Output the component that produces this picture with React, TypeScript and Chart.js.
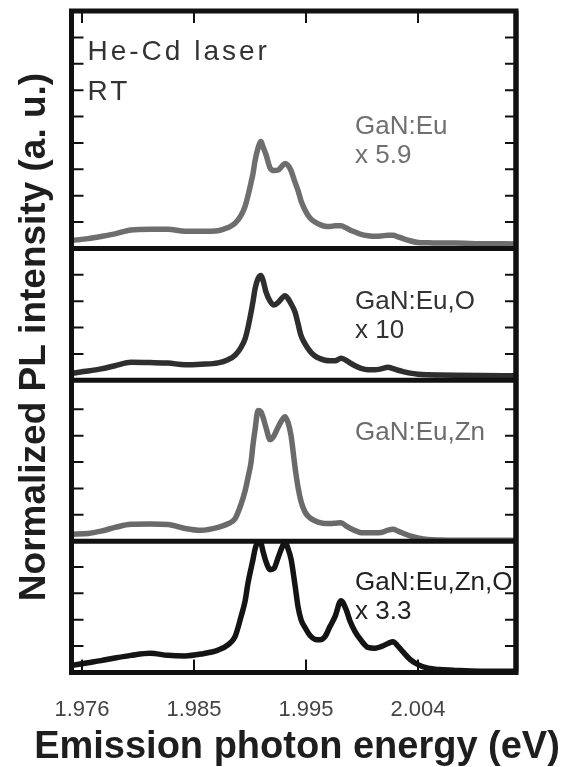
import React, { useEffect, useRef } from "react";
import { Chart, registerables } from "chart.js";

Chart.register(...registerables);

// Emission photon energy (eV)
const energies = [
  1.97515, 1.97651, 1.97761, 1.9788, 1.98016, 1.98177, 1.9833, 1.98474, 1.98609, 1.98754,
  1.98838, 1.98898, 1.98949, 1.98983, 1.99008, 1.99034, 1.99051, 1.99067, 1.99093, 1.99118,
  1.99135, 1.99161, 1.99195, 1.99229, 1.99263, 1.99297, 1.99322, 1.99347, 1.99373, 1.99407,
  1.99432, 1.99458, 1.99492, 1.99534, 1.99576, 1.99619, 1.99661, 1.99704, 1.99746, 1.99797,
  1.99839, 1.99873, 1.99916, 1.99967, 2.00026, 2.00085, 2.00136, 2.00196, 2.00238, 2.0028,
  2.00323, 2.00382, 2.0045, 2.00535, 2.00637, 2.00764, 2.00976, 2.01281,
];

// Normalized PL intensity (a. u.), one array per sample
const gaNEu = [
  0.3, 0.37, 0.45, 0.55, 0.7, 0.73, 0.73, 0.65, 0.65, 0.67,
  0.79, 0.95, 1.25, 1.59, 2.0, 2.5, 2.85, 3.3, 3.8, 4.05,
  3.85, 3.55, 3.05, 2.95, 2.97, 3.12, 3.22, 3.15, 2.95, 2.5,
  2.2, 1.8, 1.45, 1.15, 1.0, 0.9, 0.84, 0.83, 0.86, 0.86,
  0.78, 0.7, 0.62, 0.53, 0.48, 0.46, 0.47, 0.5, 0.5, 0.44,
  0.37, 0.29, 0.22, 0.21, 0.2, 0.2, 0.18, 0.17,
];
const gaNEuO = [
  0.27, 0.35, 0.43, 0.55, 0.68, 0.67, 0.65, 0.59, 0.61, 0.66,
  0.78, 0.95, 1.25, 1.57, 2.0, 2.58, 3.0, 3.45, 3.85, 3.97,
  3.8, 3.34, 3.0, 2.85, 2.95, 3.12, 3.2, 3.1, 2.9, 2.58,
  2.15, 1.69, 1.38, 1.1, 0.92, 0.82, 0.76, 0.74, 0.74, 0.83,
  0.76, 0.66, 0.55, 0.45, 0.4, 0.4, 0.43, 0.49, 0.44, 0.38,
  0.33, 0.27, 0.23, 0.21, 0.2, 0.19, 0.18, 0.17,
];
const gaNEuZn = [
  0.26, 0.29, 0.38, 0.52, 0.64, 0.65, 0.63, 0.48, 0.41, 0.52,
  0.66, 0.85, 1.4, 1.9, 2.41, 3.0, 3.68, 4.2, 4.95, 4.9,
  4.7, 4.3, 3.85, 4.0, 4.32, 4.6, 4.72, 4.5, 4.0, 2.8,
  2.05, 1.5, 1.1, 0.88, 0.77, 0.7, 0.67, 0.67, 0.68, 0.7,
  0.58, 0.49, 0.4, 0.32, 0.32, 0.32, 0.33, 0.42, 0.45, 0.38,
  0.3, 0.2, 0.12, 0.06, 0.04, 0.03, 0.03, 0.03,
];
const gaNEuZnO = [
  0.27, 0.37, 0.45, 0.55, 0.65, 0.73, 0.65, 0.63, 0.7, 0.85,
  1.05, 1.36, 2.12, 2.7, 3.39, 3.95, 4.3, 4.66, 4.95, 4.9,
  4.6, 4.2, 3.9, 3.95, 4.35, 4.75, 4.95, 4.7, 4.3, 3.3,
  2.5, 2.0, 1.7, 1.4, 1.26, 1.24, 1.36, 1.75, 2.12, 2.72,
  2.4, 1.95, 1.55, 1.22, 0.95, 0.92, 0.98, 1.1, 1.17, 1.0,
  0.78, 0.5, 0.3, 0.16, 0.11, 0.08, 0.05, 0.05,
];

const seriesNames = ["GaN:Eu", "GaN:Eu,O", "GaN:Eu,Zn", "GaN:Eu,Zn,O"];
const seriesFactors = ["x 5.9", "x 10", "", "x 3.3"];
const xTickValues = [1.976, 1.9855, 1.995, 2.0045];
const xTickLabels = ["1.976", "1.985", "1.995", "2.004"];
const panelMax = [9, 5, 6.1, 4.98]; // top to bottom
const panelTicks = [
  [1, 2, 3, 4, 5, 6, 7, 8],
  [1, 2, 3, 4],
  [1, 2, 3, 4, 5],
  [1, 2, 3, 4],
];

const FONT = '"Liberation Sans", Arial, Helvetica, sans-serif';
const lineColors = ["#6e6e6e", "#2e2e2e", "#6a6a6a", "#141414"];
const textColors = ["#707070", "#333333", "#6c6c6c", "#222222"];

const framePlugin = {
  id: "frame",
  afterDatasetsDraw(chart: any) {
    const { ctx, chartArea: a, scales } = chart;
    const ids = ["p0", "p1", "p2", "p3"];
    ctx.save();
    ctx.strokeStyle = "#111";
    ctx.lineCap = "butt";
    // y ticks (inward, both sides)
    ctx.lineWidth = 2;
    ids.forEach((id, i) => {
      const s = scales[id];
      panelTicks[i].forEach((v) => {
        const y = s.getPixelForValue(v);
        ctx.beginPath();
        ctx.moveTo(a.left, y);
        ctx.lineTo(a.left + 12, y);
        ctx.moveTo(a.right, y);
        ctx.lineTo(a.right - 11, y);
        ctx.stroke();
      });
    });
    // x ticks top and bottom
    const xs = scales.x;
    xTickValues.forEach((v) => {
      const x = xs.getPixelForValue(v);
      ctx.beginPath();
      ctx.moveTo(x, a.top);
      ctx.lineTo(x, a.top + 12);
      ctx.moveTo(x, a.bottom);
      ctx.lineTo(x, a.bottom - 13);
      ctx.stroke();
    });
    // panel separators
    ctx.lineWidth = 5;
    ids.slice(0, 3).forEach((id) => {
      const y = scales[id].bottom;
      ctx.beginPath();
      ctx.moveTo(a.left, y);
      ctx.lineTo(a.right, y);
      ctx.stroke();
    });
    // frame
    ctx.strokeRect(a.left, a.top, a.right - a.left, a.bottom - a.top);

    // annotations
    ctx.textAlign = "left";
    ctx.textBaseline = "alphabetic";
    ctx.fillStyle = "#333";
    ctx.font = `28px ${FONT}`;
    (ctx as any).letterSpacing = "3px";
    ctx.fillText("He-Cd laser", a.left + 16, a.top + 49);
    ctx.fillText("RT", a.left + 16, a.top + 89);
    (ctx as any).letterSpacing = "0px";
    ctx.font = `26px ${FONT}`;
    const labelX = a.left + 283.5;
    const baselines = [134, 309, 440, 590];
    ids.forEach((id, i) => {
      ctx.fillStyle = textColors[i];
      ctx.fillText(seriesNames[i], labelX, baselines[i]);
      if (seriesFactors[i]) ctx.fillText(seriesFactors[i], labelX, baselines[i] + 29);
    });
    // re-draw right border over clipped text
    ctx.lineWidth = 5;
    ctx.beginPath();
    ctx.moveTo(a.right, a.top);
    ctx.lineTo(a.right, a.bottom);
    ctx.stroke();

    // axis titles
    ctx.fillStyle = "#1e1e1e";
    ctx.font = `bold 38px ${FONT}`;
    ctx.textAlign = "center";
    ctx.fillText("Emission photon energy (eV)", 297, 758);
    ctx.font = `bold 37px ${FONT}`;
    ctx.translate(45, 337);
    ctx.rotate(-Math.PI / 2);
    ctx.fillText("Normalized PL intensity (a. u.)", 0, 0);
    ctx.restore();
  },
};

export default function App() {
  const ref = useRef<HTMLCanvasElement>(null);
  useEffect(() => {
    if (!ref.current) return;
    const series = [gaNEu, gaNEuO, gaNEuZn, gaNEuZnO];
    const yScale = (i: number) => ({
      type: "linear",
      position: "left",
      stack: "panels",
      stackWeight: panelMax[i],
      min: 0,
      max: panelMax[i],
      offset: false,
      grid: { display: false },
      border: { display: false },
      ticks: { display: false },
      afterFit: (s: any) => {
        s.width = 0;
      },
    });
    const chart = new Chart(ref.current, {
      type: "line",
      data: {
        datasets: series.map((vals, i) => ({
          label: seriesNames[i],
          data: energies.map((e, k) => ({ x: e, y: vals[k] })),
          yAxisID: "p" + i,
          borderColor: lineColors[i],
          borderWidth: 5.5,
          pointRadius: 0,
          tension: 0.3,
          cubicInterpolationMode: "monotone",
          borderJoinStyle: "round",
          fill: false,
        })),
      },
      options: {
        animation: false,
        responsive: false,
        layout: { padding: { left: 71.5, right: 51, top: 11, bottom: 0 } },
        plugins: { legend: { display: false }, tooltip: { enabled: false } },
        scales: {
          x: {
            type: "linear",
            position: "bottom",
            min: 1.97511,
            max: 2.01281,
            grid: { display: false, drawTicks: false },
            border: { display: false },
            afterBuildTicks: (s: any) => {
              s.ticks = xTickValues.map((v) => ({ value: v }));
            },
            afterFit: (s: any) => {
              s.height = 94.5;
            },
            ticks: {
              autoSkip: false,
              maxRotation: 0,
              padding: 24,
              color: "#444",
              font: { family: FONT, size: 22 },
              callback: (_v: any, idx: number) => xTickLabels[idx],
            },
          },
          p3: yScale(3),
          p2: yScale(2),
          p1: yScale(1),
          p0: yScale(0),
        } as any,
      },
      plugins: [framePlugin],
    } as any);
    return () => chart.destroy();
  }, []);
  return (
    <div style={{ position: "absolute", left: 0, top: 0, width: 567, height: 767, background: "#fff" }}>
      <canvas ref={ref} width={567} height={767} style={{ display: "block" }} />
    </div>
  );
}
